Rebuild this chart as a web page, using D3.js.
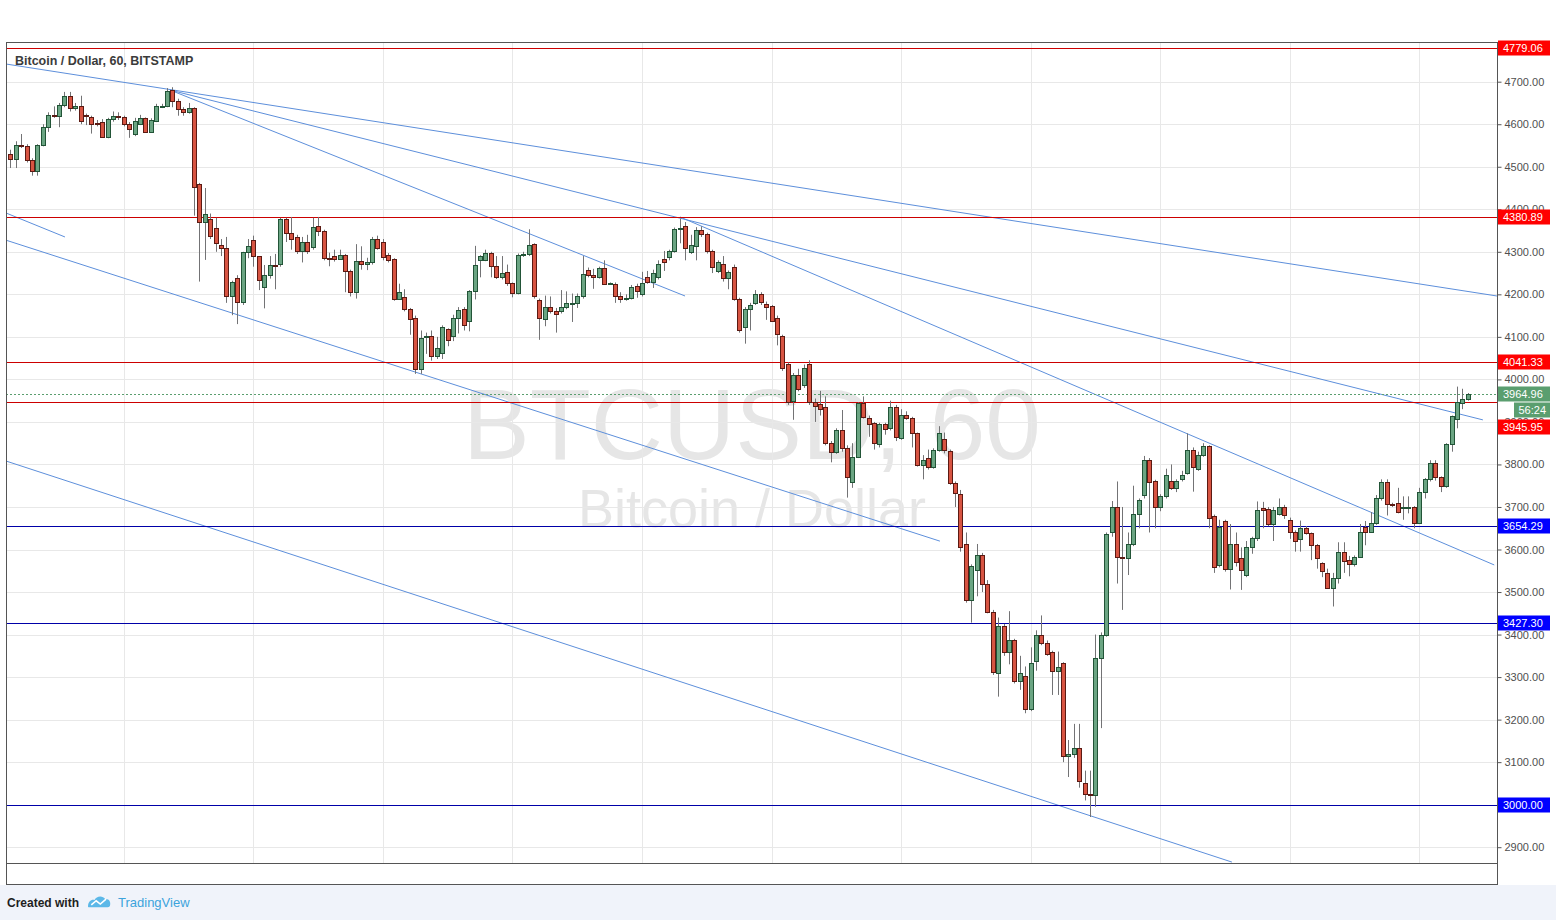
<!DOCTYPE html>
<html><head><meta charset="utf-8">
<script src="https://cdn.jsdelivr.net/npm/d3@7"></script>
<style>
html,body{margin:0;padding:0;background:#ffffff;}
svg{display:block;}
text{font-family:"Liberation Sans",Arial,sans-serif;}
</style></head><body>
<svg id="c" width="1556" height="920"></svg>
<script>
// ---------------- DATA ----------------
const startTime = Date.UTC(2017, 8, 7, 3); // first hourly candle
const opens = [4530,4518,4551,4549,4515,4491,4551,4593,4622,4620,4646,4666,4638,4642,4622,4618,4604,4606,4570,4612,4619,4617,4600,4577,4600,4614,4582,4607,4642,4642,4681,4655,4636,4628,4638,4460,4369,4378,4357,4317,4309,4197,4238,4181,4299,4328,4289,4217,4246,4269,
4271,4377,4344,4335,4303,4324,4311,4360,4349,4285,4289,4284,4292,4254,4205,4279,4272,4276,4330,4323,4292,4282,4189,4194,4165,4145,4024,4099,4101,4054,4063,4118,4102,4144,4165,4138,4207,4281,4281,4297,4267,4240,4252,4226,4204,4293,4294,4318,4187,4142,
4170,4161,4160,4170,4179,4179,4195,4258,4246,4240,4261,4225,4225,4197,4188,4192,4220,4200,4240,4230,4240,4283,4287,4302,4355,4361,4300,4313,4352,4342,4301,4256,4272,4238,4264,4189,4123,4165,4180,4200,4178,4172,4144,4102,4036,3950,4011,3986,4036,3948,
3942,3936,3850,3830,3881,3838,3758,3818,3944,3910,3898,3848,3895,3885,3935,3862,3916,3909,3873,3799,3815,3793,3833,3861,3831,3757,3731,3614,3482,3552,3587,3520,3454,3309,3420,3358,3387,3291,3302,3226,3337,3400,3379,3359,3314,3332,3115,3119,3134,3050,
3026,3022,3344,3400,3640,3701,3583,3581,3612,3683,3727,3811,3761,3699,3726,3761,3744,3765,3779,3834,3789,3822,3843,3679,3564,3666,3553,3612,3579,3540,3605,3626,3697,3695,3660,3683,3701,3670,3640,3624,3650,3638,3611,3569,3544,3509,3532,3593,3575,3567,
3583,3654,3642,3663,3720,3758,3706,3710,3699,3699,3699,3663,3736,3765,3803,3770,3750,3847,3906,3945,3953];
const highs = [4540,4560,4577,4553,4520,4553,4600,4628,4642,4650,4676,4676,4650,4667,4625,4620,4610,4612,4615,4630,4628,4620,4605,4615,4622,4616,4614,4648,4648,4685,4687,4660,4640,4650,4640,4462,4450,4390,4380,4330,4335,4232,4245,4300,4330,4338,4290,4269,4290,4295,
4380,4380,4382,4340,4335,4340,4380,4382,4352,4298,4305,4305,4295,4258,4318,4313,4286,4335,4338,4330,4297,4285,4225,4212,4168,4150,4115,4110,4115,4100,4127,4120,4152,4170,4170,4210,4314,4292,4305,4300,4290,4290,4270,4228,4296,4300,4353,4320,4190,4197,
4195,4168,4210,4207,4202,4202,4290,4263,4260,4265,4280,4228,4228,4205,4200,4222,4225,4253,4255,4258,4280,4302,4305,4357,4378,4370,4340,4358,4360,4345,4305,4280,4290,4256,4270,4192,4170,4180,4210,4205,4183,4175,4150,4105,4040,4015,4025,4035,4045,3955,
3973,3960,3855,3885,3928,3845,3850,3946,3960,3915,3900,3898,3898,3950,3940,3930,3925,3912,3875,3822,3835,3838,3890,3875,3835,3760,3740,3640,3565,3613,3592,3528,3458,3440,3425,3455,3390,3350,3325,3370,3410,3445,3386,3362,3360,3335,3152,3190,3190,3080,
3080,3400,3405,3640,3714,3760,3700,3640,3750,3720,3820,3815,3764,3730,3790,3800,3765,3785,3873,3840,3830,3850,3845,3682,3670,3670,3660,3640,3605,3620,3630,3713,3712,3700,3700,3720,3705,3675,3645,3668,3655,3640,3613,3570,3555,3545,3617,3617,3585,3586,
3660,3667,3688,3728,3765,3765,3710,3745,3725,3725,3702,3745,3768,3810,3810,3772,3850,3915,3983,3978,3968];
const lows = [4497,4497,4544,4510,4479,4479,4548,4582,4615,4593,4640,4630,4632,4600,4598,4578,4595,4568,4567,4606,4610,4595,4568,4572,4598,4580,4580,4605,4638,4640,4640,4620,4620,4625,4385,4230,4281,4330,4300,4290,4180,4151,4130,4175,4285,4265,4210,4167,4237,4212,
4265,4323,4305,4295,4275,4295,4305,4337,4280,4266,4277,4282,4205,4195,4190,4258,4257,4270,4305,4280,4275,4185,4187,4160,4105,4013,4013,4060,4044,4048,4048,4078,4090,4108,4115,4113,4188,4240,4278,4240,4236,4235,4220,4193,4200,4288,4290,4190,4093,4125,
4155,4110,4155,4165,4135,4168,4190,4240,4213,4237,4222,4222,4180,4180,4185,4188,4192,4195,4225,4215,4235,4255,4280,4298,4320,4280,4295,4280,4335,4296,4250,4250,4230,4212,4185,4110,4084,4115,4175,4175,4140,4135,4080,4020,3940,3905,3972,3980,3940,3900,
3915,3845,3805,3825,3830,3722,3745,3815,3908,3865,3835,3840,3870,3880,3855,3858,3905,3840,3795,3765,3788,3790,3830,3826,3752,3700,3595,3475,3428,3490,3500,3450,3305,3254,3350,3330,3285,3270,3215,3220,3315,3375,3350,3258,3258,3100,3065,3110,3040,3010,
2971,2995,3180,3395,3630,3520,3458,3540,3608,3650,3720,3640,3650,3690,3720,3740,3735,3760,3776,3736,3785,3818,3650,3545,3558,3548,3506,3560,3505,3535,3590,3620,3650,3655,3620,3680,3672,3625,3595,3595,3635,3575,3555,3535,3508,3466,3520,3545,3537,3560,
3580,3610,3640,3658,3715,3680,3700,3685,3670,3685,3650,3660,3720,3760,3762,3735,3745,3830,3885,3930,3950];
const closes = [4518,4551,4549,4515,4491,4551,4593,4622,4620,4646,4666,4638,4642,4608,4619,4600,4603,4570,4612,4619,4617,4600,4589,4608,4614,4582,4611,4642,4643,4679,4655,4636,4628,4638,4453,4369,4390,4338,4320,4309,4197,4229,4181,4299,4314,4289,4234,4246,4269,4267,
4377,4344,4330,4303,4324,4301,4358,4349,4285,4284,4284,4292,4254,4205,4279,4272,4276,4330,4310,4287,4281,4189,4205,4165,4142,4024,4098,4101,4055,4073,4124,4093,4144,4164,4128,4207,4269,4289,4297,4267,4240,4250,4226,4203,4293,4294,4316,4197,4144,4170,
4161,4153,4170,4179,4179,4195,4248,4246,4240,4261,4225,4226,4197,4188,4192,4218,4207,4226,4230,4250,4272,4277,4302,4353,4357,4309,4317,4352,4342,4301,4264,4276,4238,4253,4189,4115,4165,4175,4200,4183,4171,4138,4106,4026,3946,4011,3977,4026,3948,3938,
3930,3850,3830,3881,3838,3770,3818,3944,3912,3895,3850,3895,3883,3935,3865,3916,3909,3873,3799,3811,3793,3833,3873,3833,3757,3734,3605,3481,3561,3587,3520,3454,3311,3420,3358,3387,3291,3309,3226,3334,3400,3379,3354,3314,3324,3115,3119,3134,3056,3026,
3022,3344,3400,3636,3701,3583,3581,3612,3683,3716,3811,3759,3699,3726,3775,3744,3761,3775,3834,3793,3822,3843,3673,3560,3654,3553,3612,3571,3552,3605,3626,3693,3693,3661,3693,3701,3680,3640,3621,3650,3638,3611,3579,3549,3509,3532,3593,3574,3567,3583,
3642,3642,3663,3720,3758,3706,3705,3689,3699,3699,3663,3736,3765,3803,3770,3750,3847,3913,3946,3953,3965];

const priceTicks = [2900,3000,3100,3200,3300,3400,3500,3600,3700,3800,3900,4000,4100,4200,4300,4400,4500,4600,4700];
const dayTicks = [8,9,10,11,12,13,14,15,16,17,18];
const extraTimeTick = {day: 18, hour: 14, label: "14:00"};
const redLevels = [4779.06, 4380.89, 4041.33, 3945.95];
const blueLevels = [3654.29, 3427.30, 3000.00];
const lastPrice = 3964.96;
const countdown = "56:24";
// trend lines: [hour offset from first candle, price, hour offset, price]
const trendLines = [
  [-0.83, 4741.6, 275.4, 4196.1],
  [29.55, 4680.5, 272.8, 3904.8],
  [29.55, 4680.5, 124.98, 4196.1],
  [124.05, 4381.9, 274.9, 3563.7],
  [-0.83, 4391.3, 10.1, 4334.9],
  [-0.83, 4327.4, 172.2, 3619.7],
  [-0.83, 3808.1, 226.3, 2865.0]
];
const titleText = "Bitcoin / Dollar, 60, BITSTAMP";
const watermark1 = "BTCUSD, 60";
const watermark2 = "Bitcoin / Dollar";

// ---------------- LAYOUT ----------------
const W = 1556, H = 920;
const plot = {left: 6, top: 42, right: 1497, bottom: 863};
const HOUR = 3600e3;
const svg = d3.select("#c");

const x = d3.scaleUtc()
  .domain([Date.UTC(2017,8,8,0), Date.UTC(2017,8,18,0)])
  .range([123.8, 1419.2]);
const y = d3.scaleLinear().domain([2900, 4700]).range([847.2, 81.7]);

const tAt = h => new Date(startTime + h * HOUR);

// background / footer
svg.append("rect").attr("x",0).attr("y",0).attr("width",W).attr("height",H).attr("fill","#ffffff");
svg.append("rect").attr("x",0).attr("y",885).attr("width",W).attr("height",35).attr("fill","#f0f3fa");

const defs = svg.append("defs");
defs.append("clipPath").attr("id","plotclip").append("rect")
  .attr("x",plot.left).attr("y",plot.top).attr("width",plot.right-plot.left).attr("height",plot.bottom-plot.top);
defs.append("clipPath").attr("id","xclip").append("rect")
  .attr("x",plot.left).attr("y",plot.bottom).attr("width",plot.right-plot.left-2).attr("height",22);

const g = svg.append("g").attr("clip-path","url(#plotclip)");

// watermark
g.append("text").attr("x",752).attr("y",459).attr("text-anchor","middle")
  .attr("font-size",100).attr("fill","#e6e6e6").text(watermark1);
g.append("text").attr("x",752).attr("y",527).attr("text-anchor","middle")
  .attr("font-size",54).attr("fill","#e6e6e6").text(watermark2);

// grid
g.selectAll("line.hg").data(priceTicks).enter().append("rect").attr("class","hg")
  .attr("x",plot.left).attr("width",plot.right-plot.left)
  .attr("y",d=>Math.round(y(d))).attr("height",1)
  .attr("fill","#e8e8e8");
const dayDates = dayTicks.map(d => new Date(Date.UTC(2017,8,d,0)));
g.selectAll("rect.vg").data(dayDates).enter().append("rect").attr("class","vg")
  .attr("y",plot.top).attr("height",plot.bottom-plot.top)
  .attr("x",d=>Math.round(x(d))).attr("width",1)
  .attr("fill","#e8e8e8");

// trend lines
g.selectAll("line.tl").data(trendLines).enter().append("line").attr("class","tl")
  .attr("x1",d=>x(tAt(d[0]))).attr("y1",d=>y(d[1]))
  .attr("x2",d=>x(tAt(d[2]))).attr("y2",d=>y(d[3]))
  .attr("stroke","#5d8fdb").attr("stroke-width",1);

// horizontal levels (1px rects)
g.selectAll("rect.rl").data(redLevels).enter().append("rect").attr("class","rl")
  .attr("x",plot.left).attr("width",plot.right-plot.left)
  .attr("y",d=>Math.round(y(d))).attr("height",1)
  .attr("fill","#cc0000");
g.selectAll("rect.bl").data(blueLevels).enter().append("rect").attr("class","bl")
  .attr("x",plot.left).attr("width",plot.right-plot.left)
  .attr("y",d=>Math.round(y(d))).attr("height",1)
  .attr("fill","#0000a8");

// last price dotted line
g.append("line").attr("x1",plot.left).attr("x2",plot.right)
  .attr("y1",Math.round(y(lastPrice))+0.5).attr("y2",Math.round(y(lastPrice))+0.5)
  .attr("stroke","#5a9e6f").attr("stroke-dasharray","2,2").attr("stroke-width",1);

// candles
const candles = closes.map((c,i)=>({t:tAt(i), o:opens[i], h:highs[i], l:lows[i], c:c}));
const cg = g.append("g");
cg.selectAll("line.wick").data(candles).enter().append("line").attr("class","wick")
  .attr("x1",d=>Math.round(x(d.t))+0.5).attr("x2",d=>Math.round(x(d.t))+0.5)
  .attr("y1",d=>y(d.h)).attr("y2",d=>y(d.l))
  .attr("stroke","#737375").attr("stroke-width",1);
cg.selectAll("rect.body").data(candles).enter().append("rect").attr("class","body")
  .attr("x",d=>Math.round(x(d.t))-1.5)
  .attr("width",4)
  .attr("y",d=>Math.round(y(Math.max(d.o,d.c)))+0.5)
  .attr("height",d=>Math.max(1, Math.round(y(Math.min(d.o,d.c))) - Math.round(y(Math.max(d.o,d.c)))))
  .attr("fill",d=>d.c>=d.o?"#6ba583":"#d75442")
  .attr("stroke",d=>d.c>=d.o?"#225437":"#5b1a13")
  .attr("stroke-width",1);

// title
svg.append("text").attr("x",15).attr("y",65).attr("font-size",12.5).attr("font-weight","bold")
  .attr("fill","#3b3b3b").text(titleText);

// frame
const frame = [
  [plot.left, plot.top, 1550 - plot.left, 1],
  [plot.left, plot.top, 1, 884 - plot.top],
  [plot.right, plot.top, 1, 884 - plot.top],
  [plot.left, plot.bottom, plot.right - plot.left, 1],
  [plot.left, 884, plot.right - plot.left + 1, 1]
];
svg.selectAll("rect.fr").data(frame).enter().append("rect").attr("class","fr")
  .attr("x",d=>d[0]).attr("y",d=>d[1]).attr("width",d=>d[2]).attr("height",d=>d[3]).attr("fill","#555555");

// right price axis
const yAxis = d3.axisRight(y).tickValues(priceTicks).tickSize(4).tickFormat(d3.format(".2f"));
const ya = svg.append("g").attr("transform",`translate(${plot.right+0.5},0)`).call(yAxis);
ya.select(".domain").remove();
ya.selectAll("line").attr("stroke","#555");
ya.selectAll("text").attr("font-size",11).attr("fill","#4f4f4f").attr("x",7)
  .style("font-family","'Liberation Sans',Arial,sans-serif");

// bottom time axis
const timeTicks = dayDates.concat([new Date(Date.UTC(2017,8,extraTimeTick.day,extraTimeTick.hour))]);
const xAxis = d3.axisBottom(x).tickValues(timeTicks).tickSize(3)
  .tickFormat(d => d.getUTCHours() === 0 ? String(d.getUTCDate()) : extraTimeTick.label);
const xa = svg.append("g").attr("transform",`translate(0,${plot.bottom+0.5})`).attr("clip-path","url(#xclip)").call(xAxis);
xa.select(".domain").remove();
xa.selectAll("line").attr("stroke","#555");
xa.selectAll("text").attr("font-size",11).attr("fill","#4f4f4f").attr("dy","0.95em")
  .style("font-family","'Liberation Sans',Arial,sans-serif");

// price labels
const boxH = 15, boxX = plot.right + 1, boxW = 52;
const lastY = Math.round(y(lastPrice));
const blockTop = lastY - boxH/2, blockBottom = lastY + boxH/2 + 1 + boxH;
const labels = [];
redLevels.forEach(v => labels.push({v, col:"#ff0000"}));
blueLevels.forEach(v => labels.push({v, col:"#0000ff"}));
labels.forEach(d => {
  let cy = Math.round(y(d.v));
  if (cy + boxH/2 > blockTop && cy - boxH/2 < blockBottom) cy = blockBottom + 2 + boxH/2;
  d.cy = cy;
});
const lg = svg.append("g");
lg.selectAll("rect.lb").data(labels).enter().append("rect").attr("class","lb")
  .attr("x",boxX).attr("y",d=>d.cy-boxH/2).attr("width",boxW).attr("height",boxH).attr("fill",d=>d.col);
lg.selectAll("text.lt").data(labels).enter().append("text").attr("class","lt")
  .attr("x",boxX+5).attr("y",d=>d.cy+4).attr("font-size",11).attr("fill","#fff")
  .text(d=>d.v.toFixed(2));
lg.append("rect").attr("x",boxX).attr("y",lastY-boxH/2).attr("width",boxW).attr("height",boxH).attr("fill","#5a9e6f");
lg.append("text").attr("x",boxX+5).attr("y",lastY+4).attr("font-size",11).attr("fill","#fff").text(lastPrice.toFixed(2));
lg.append("rect").attr("x",boxX+16).attr("y",lastY+boxH/2+1).attr("width",boxW-16).attr("height",boxH).attr("fill","#5a9e6f");
lg.append("text").attr("x",boxX+boxW-4).attr("y",lastY+boxH/2+1+boxH/2+4).attr("text-anchor","end").attr("font-size",11).attr("fill","#fff").text(countdown);

// footer
svg.append("text").attr("x",7).attr("y",907).attr("font-size",12).attr("font-weight","bold").attr("fill","#1e1e1e").text("Created with");
const logo = svg.append("g").attr("transform","translate(88,895) scale(0.82)");
logo.append("path").attr("d","M0,14 C0,8 4,5 8,6 C10,1 18,0 21,5 C25,4 28,8 27,12 C27,14 26,15 24,15 L3,15 C1,15 0,15 0,14 Z").attr("fill","#5cb8e8");
logo.append("path").attr("d","M4,12 L10,7 L15,11 L22,5").attr("fill","none").attr("stroke","#ffffff").attr("stroke-width",2);
svg.append("text").attr("x",118).attr("y",907).attr("font-size",13).attr("fill","#3ca3dc").text("TradingView");
</script>
</body></html>
